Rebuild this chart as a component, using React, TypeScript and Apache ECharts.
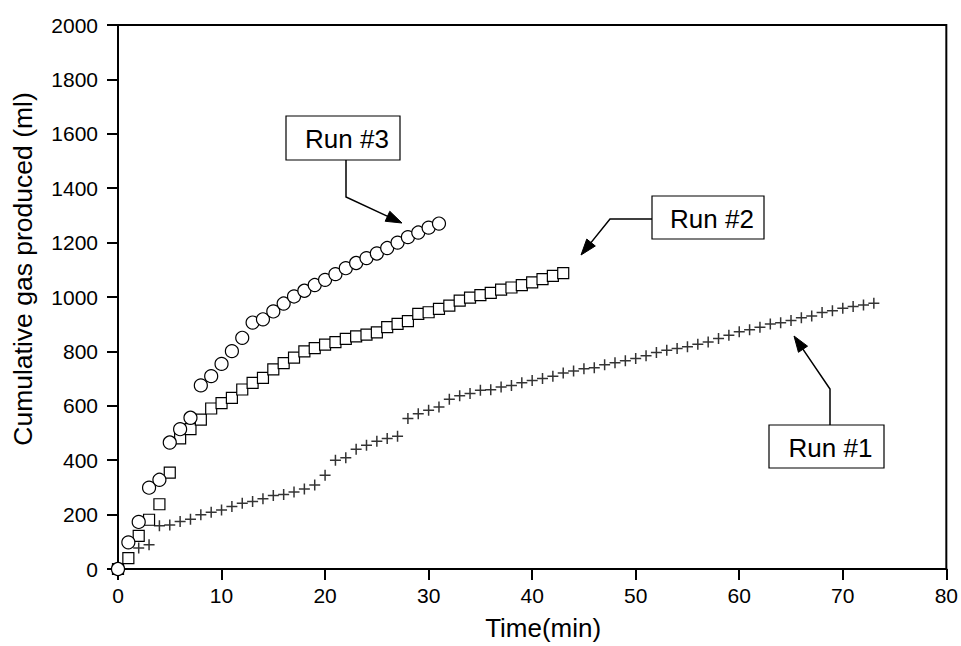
import React, { useEffect, useRef } from "react";
import * as echarts from "echarts";

// Sampling times (min) for each run
const run1Time = [
  0, 1, 2, 3, 4, 5, 6, 7, 8, 9, 10, 11, 12, 13, 14, 15, 16, 17, 18, 19,
  20, 21, 22, 23, 24, 25, 26, 27, 28, 29, 30, 31, 32, 33, 34, 35, 36, 37, 38, 39,
  40, 41, 42, 43, 44, 45, 46, 47, 48, 49, 50, 51, 52, 53, 54, 55, 56, 57, 58, 59,
  60, 61, 62, 63, 64, 65, 66, 67, 68, 69, 70, 71, 72, 73,
];
const run2Time = [
  0, 1, 2, 3, 4, 5, 6, 7, 8, 9, 10, 11, 12, 13, 14, 15, 16, 17, 18, 19,
  20, 21, 22, 23, 24, 25, 26, 27, 28, 29, 30, 31, 32, 33, 34, 35, 36, 37, 38, 39,
  40, 41, 42, 43,
];
const run3Time = [
  0, 1, 2, 3, 4, 5, 6, 7, 8, 9, 10, 11, 12, 13, 14, 15, 16, 17, 18, 19,
  20, 21, 22, 23, 24, 25, 26, 27, 28, 29, 30, 31,
];

// Cumulative gas produced (ml)
const run1Gas = [
  0, 40, 77, 89, 159, 162, 175, 183, 199, 209, 217, 230, 242, 248, 258, 270, 274, 283, 294, 309,
  345, 400, 409, 440, 455, 470, 480, 488, 553, 571, 584, 596, 624, 637, 645, 657, 659, 669, 675, 685,
  693, 700, 709, 721, 728, 736, 740, 751, 758, 766, 774, 784, 796, 804, 811, 817, 826, 835, 847, 859,
  872, 880, 889, 901, 905, 914, 924, 930, 943, 949, 959, 965, 971, 977,
];
const run2Gas = [
  0, 40, 122, 181, 238, 354, 480, 514, 549, 590, 610, 629, 660, 684, 703, 734, 757, 777, 800, 812,
  825, 834, 846, 855, 862, 870, 889, 901, 911, 938, 944, 956, 968, 987, 998, 1007, 1015, 1027, 1035, 1044,
  1054, 1066, 1078, 1088,
];
const run3Gas = [
  0, 98, 173, 299, 328, 465, 514, 556, 675, 709, 754, 801, 850, 906, 918, 947, 976, 1002, 1023, 1044,
  1063, 1084, 1106, 1125, 1143, 1160, 1180, 1200, 1220, 1237, 1255, 1270,
];

const runLabels = ["Run #1", "Run #2", "Run #3"];

const FONT = '"Liberation Sans", Arial, Helvetica, sans-serif';

const pair = (xs: number[], ys: number[]) => xs.map((x, i) => [x, ys[i]]);

// Leader line ending in a filled arrowhead at the last point
function arrow(points: number[][]): any[] {
  const n = points.length;
  const [x1, y1] = points[n - 2];
  const [x2, y2] = points[n - 1];
  const dx = x2 - x1;
  const dy = y2 - y1;
  const len = Math.hypot(dx, dy);
  const ux = dx / len;
  const uy = dy / len;
  const headLen = 16;
  const halfW = 5.5;
  const bx = x2 - ux * headLen;
  const by = y2 - uy * headLen;
  const linePts = points.slice(0, n - 1).concat([[bx + ux * 2, by + uy * 2]]);
  return [
    {
      type: "polyline",
      shape: { points: linePts },
      style: { stroke: "#000", lineWidth: 1.5, fill: null },
      z: 100,
    },
    {
      type: "polygon",
      shape: {
        points: [
          [x2, y2],
          [bx - uy * halfW, by + ux * halfW],
          [bx + uy * halfW, by - ux * halfW],
        ],
      },
      style: { fill: "#000", stroke: "#000", lineWidth: 1 },
      z: 100,
    },
  ];
}

function labelBox(text: string, x: number, y: number, w: number, h: number): any[] {
  return [
    {
      type: "rect",
      shape: { x, y, width: w, height: h },
      style: { fill: "#fff", stroke: "#000", lineWidth: 1.2 },
      z: 100,
    },
    {
      type: "text",
      x: x + w / 2 + 4,
      y: y + h / 2 + 1,
      style: {
        text,
        fontFamily: FONT,
        fontSize: 26,
        fill: "#000",
        align: "center",
        verticalAlign: "middle",
      },
      z: 101,
    },
  ];
}

export default function App() {
  const ref = useRef<HTMLDivElement>(null);

  useEffect(() => {
    document.body.style.margin = "0";
    const chart = echarts.init(ref.current!, null, { renderer: "svg" });

    const symbolStyle = {
      color: "#fff",
      borderColor: "#000",
      borderWidth: 1.2,
      opacity: 1,
    };

    chart.setOption({
      animation: false,
      backgroundColor: "#fff",
      grid: {
        left: 118,
        right: 13,
        top: 25,
        bottom: 75,
        show: true,
        borderColor: "#000",
        borderWidth: 2,
        backgroundColor: "transparent",
      },
      xAxis: {
        type: "value",
        min: 0,
        max: 80,
        interval: 10,
        name: "Time(min)",
        nameLocation: "middle",
        nameGap: 46,
        nameTextStyle: {
          fontFamily: FONT,
          fontSize: 26,
          color: "#000",
          padding: [0, 0, 0, 22],
        },
        axisLine: { onZero: false, lineStyle: { color: "#000", width: 2 } },
        axisTick: { inside: false, length: 11, lineStyle: { color: "#000", width: 2 } },
        axisLabel: {
          margin: 16,
          fontFamily: FONT,
          fontSize: 21,
          color: "#000",
          formatter: (v: number) => String(v),
        },
        splitLine: { show: false },
      },
      yAxis: {
        type: "value",
        min: 0,
        max: 2000,
        interval: 200,
        name: "Cumulative gas produced (ml)",
        nameLocation: "middle",
        nameGap: 82,
        nameTextStyle: {
          fontFamily: FONT,
          fontSize: 26.5,
          color: "#000",
          padding: [0, 0, 0, 56],
        },
        axisLine: { onZero: false, lineStyle: { color: "#000", width: 2 } },
        axisTick: { inside: false, length: 11, lineStyle: { color: "#000", width: 2 } },
        axisLabel: {
          margin: 20,
          fontFamily: FONT,
          fontSize: 21,
          color: "#000",
          formatter: (v: number) => String(v),
        },
        splitLine: { show: false },
      },
      series: [
        {
          name: runLabels[0],
          type: "scatter",
          data: pair(run1Time, run1Gas),
          symbol: "path://M0,5L10,5M5,0L5,10",
          symbolSize: 11,
          itemStyle: { color: "transparent", borderColor: "#000", borderWidth: 1.5 },
          z: 2,
        },
        {
          name: runLabels[1],
          type: "scatter",
          data: pair(run2Time, run2Gas),
          symbol: "rect",
          symbolSize: 11,
          itemStyle: symbolStyle,
          z: 3,
        },
        {
          name: runLabels[2],
          type: "scatter",
          data: pair(run3Time, run3Gas),
          symbol: "circle",
          symbolSize: 13,
          itemStyle: symbolStyle,
          z: 4,
        },
      ],
      graphic: [
        ...arrow([[346, 160], [346, 197], [402, 223]]),
        ...labelBox(runLabels[2], 286, 116, 114, 44),
        ...arrow([[652, 219], [610, 219], [581, 255]]),
        ...labelBox(runLabels[1], 652, 196, 112, 43),
        ...arrow([[830, 425], [830, 389], [794, 336]]),
        ...labelBox(runLabels[0], 769, 425, 115, 43),
      ],
    });

    return () => chart.dispose();
  }, []);

  return <div ref={ref} style={{ width: 961, height: 646 }} />;
}
